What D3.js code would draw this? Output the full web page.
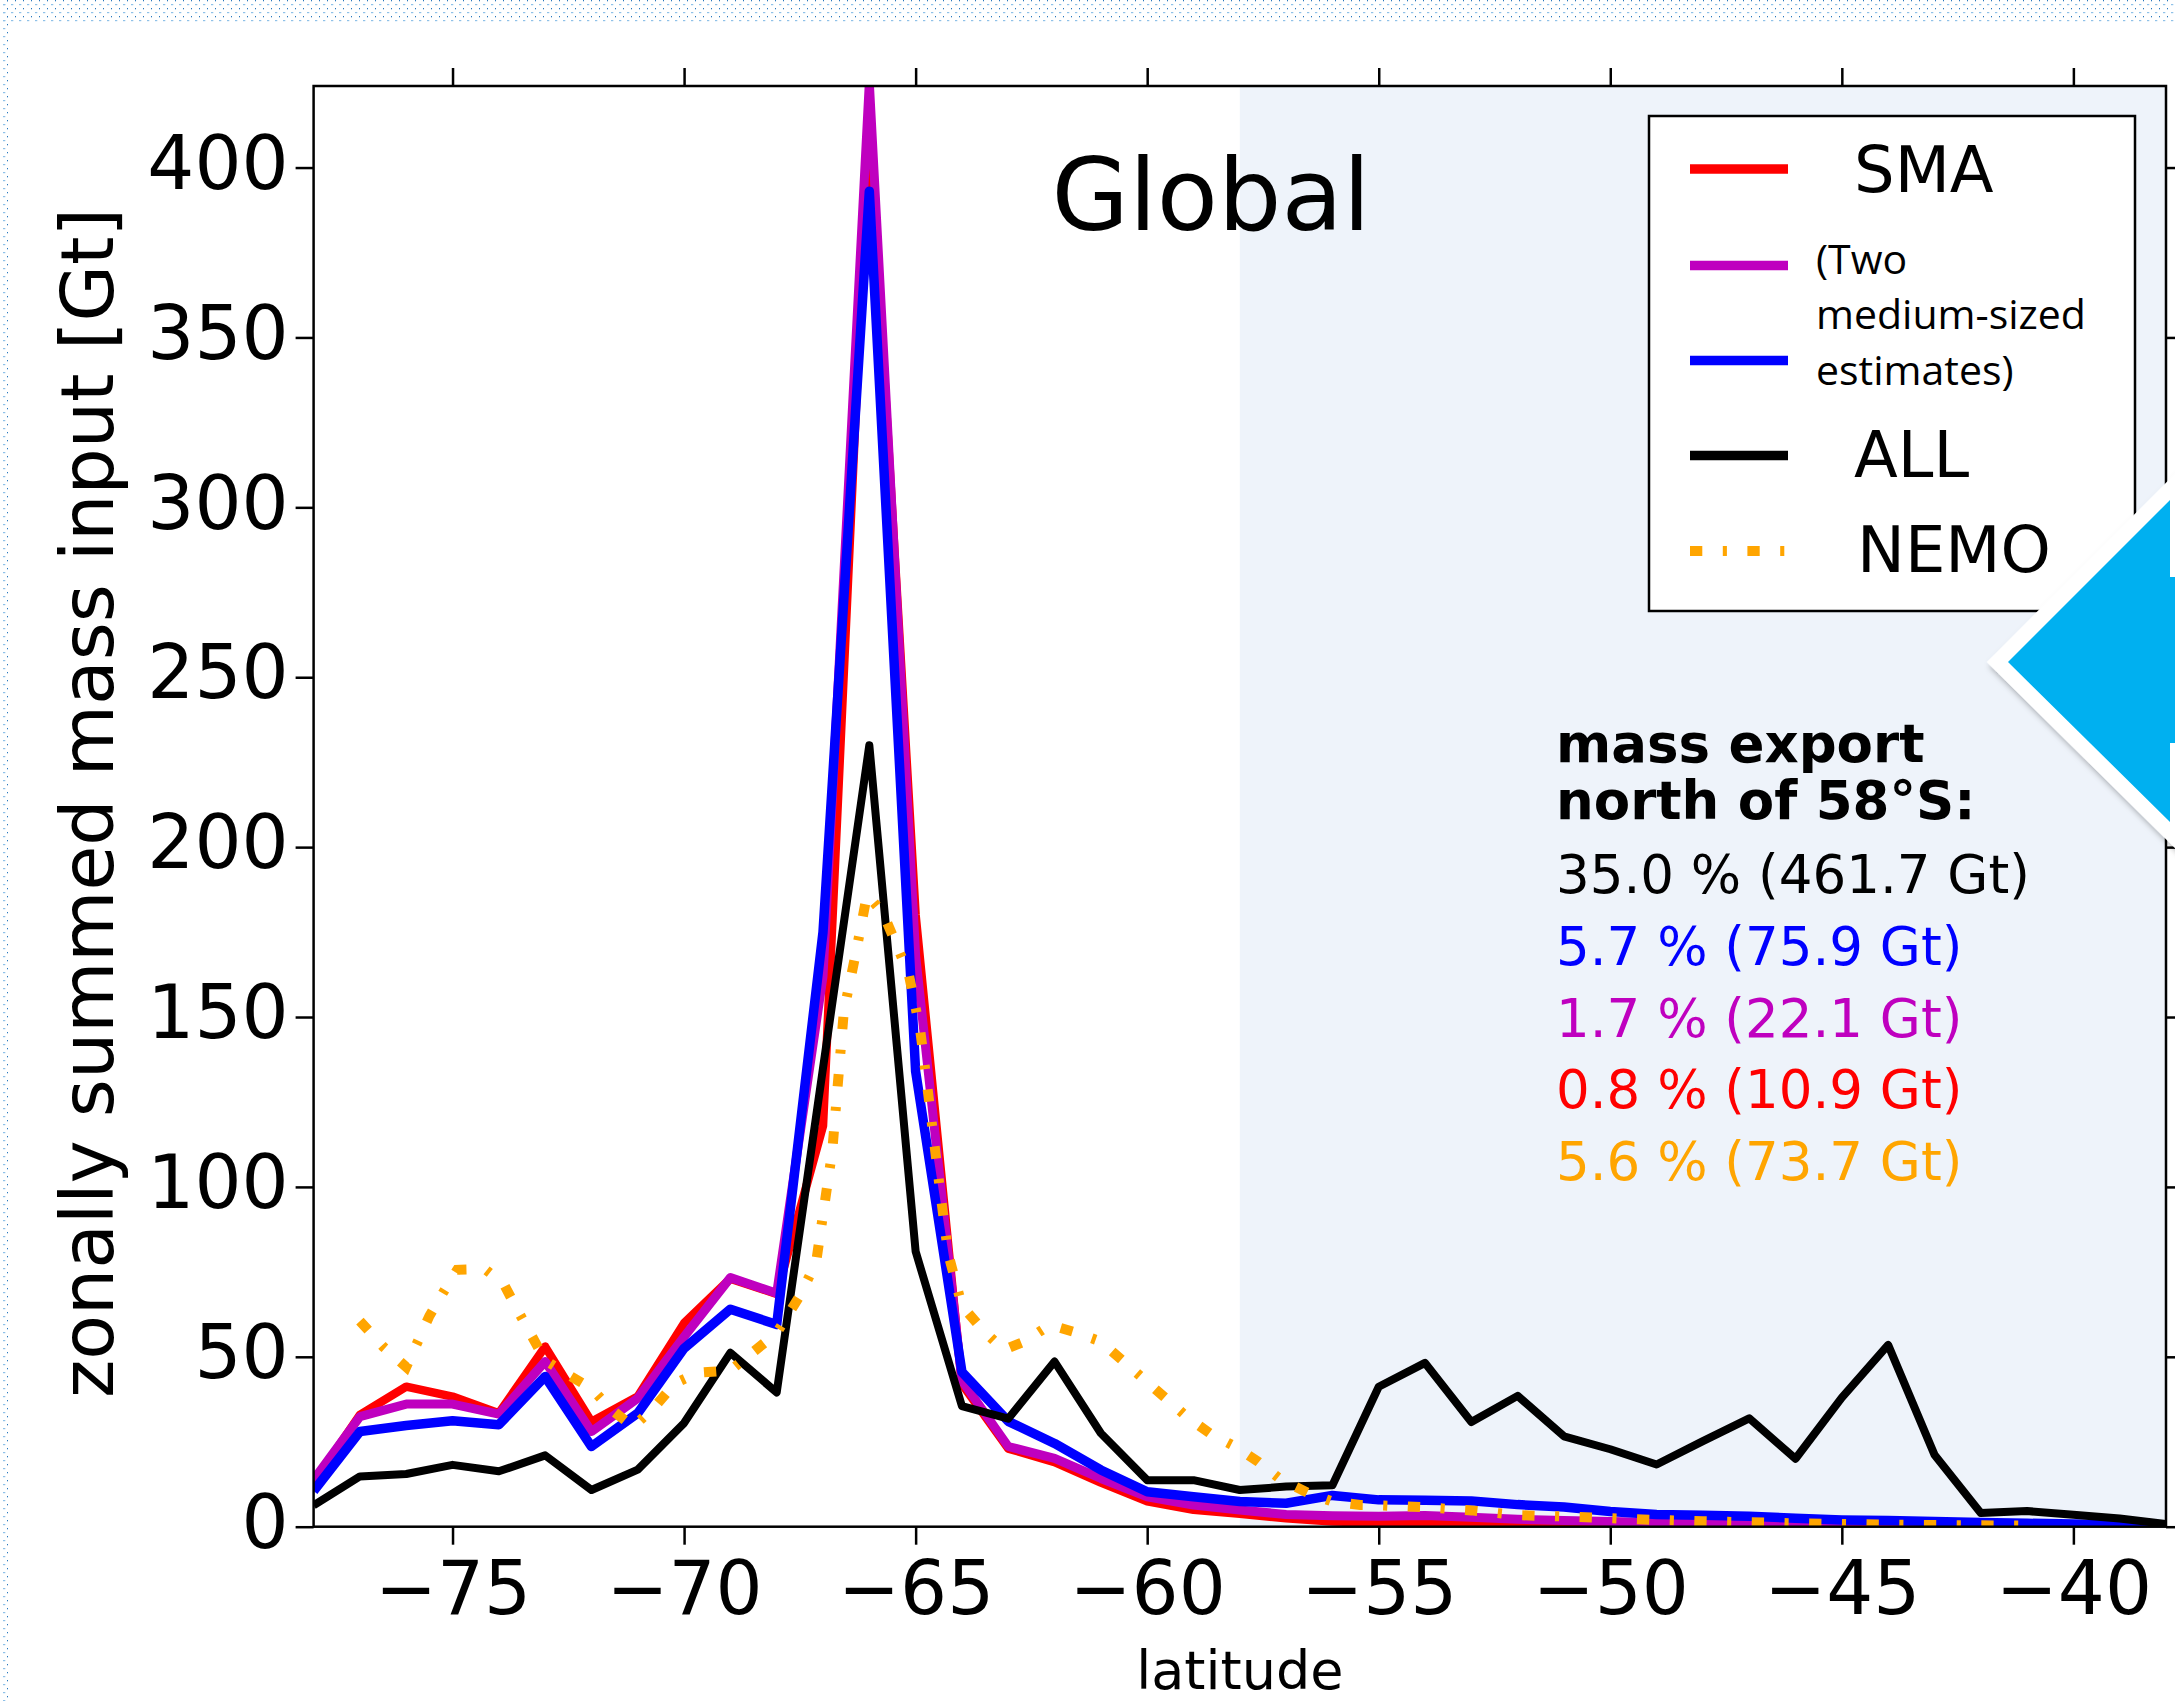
<!DOCTYPE html>
<html>
<head>
<meta charset="utf-8">
<script src="https://cdn.jsdelivr.net/npm/d3@7"></script>
<style>
  body { margin: 0; background: #fff; }
  svg { display: block; }
  text { font-family: "DejaVu Sans", sans-serif; }
</style>
</head>
<body>
<div id="chart"></div>
<script>
// latitude grid of the zonal sums
const latitudes = [-78, -77, -76, -75, -74, -73, -72, -71, -70, -69, -68, -67, -66, -65, -64, -63, -62, -61, -60, -59,
  -58, -57, -56, -55, -54, -53, -52, -51, -50, -49, -48, -47, -46, -45, -44, -43, -42, -41, -40, -39, -38];

const smaValues = [13, 32.9, 41.2, 38.3, 33.4, 53, 30.9, 38.3, 59.9, 73, 68.5, 118, 415, 180, 42, 23, 19, 13, 7.5, 5,
  3.8, 2.5, 1.5, 1.2, 1.2, 1.0, 0.8, 0.6, 0.5, 0.4, 0.3, 0.3, 0.2, 0.2, 0.1, 0.1, 0.1, 0.1, 0.05, 0.05, 0.02];

const mediumMagentaValues = [13.8, 32.4, 36.1, 36.1, 33.1, 48.6, 28, 37.8, 55.9, 73.3, 68.7, 162, 425, 168, 43, 23.6, 20.1, 14.2, 8.8, 6.4,
  4.9, 3.6, 3.2, 3.1, 3.3, 2.8, 2.2, 1.8, 1.5, 1.2, 1.0, 0.8, 0.6, 0.5, 0.4, 0.3, 0.2, 0.2, 0.1, 0.1, 0.05];

const mediumBlueValues = [10.5, 28, 29.8, 31.2, 30, 44.2, 23.6, 33.4, 52.5, 64, 59.5, 175, 393, 134, 45.5, 31, 24.5, 16.7, 10.3, 8.8,
  7.4, 6.9, 9.2, 7.9, 7.8, 7.6, 6.5, 5.8, 4.5, 3.6, 3.4, 3.1, 2.5, 2, 1.8, 1.5, 1.2, 1, 0.8, 0.5, 0.2];

const allValues = [6.3, 14.8, 15.5, 18.2, 16.3, 21, 10.8, 16.8, 30.5, 51.2, 39.5, 135, 230, 81, 35.5, 31.8, 48.6, 27.5, 13.7, 13.7,
  10.8, 11.8, 12.2, 41.2, 48.2, 30.8, 38.5, 26.6, 22.8, 18.3, 25.2, 31.9, 20, 38, 53.5, 21.2, 4, 4.6, 3.5, 2.4, 0.8];

// NEMO is on its own (finer) grid
const nemoLatitudes = [-77, -76.5, -76, -75.5, -75.2, -74.9, -74.3, -73.9, -73.6, -73.3, -73, -72.5, -72, -71.6, -71.1,
  -70.6, -70.2, -69.7, -69, -68.5, -68, -67.5, -67.15, -66.8, -66.55, -66.3, -66.05, -65.7, -65.15, -64.9, -64.7,
  -64.5, -64.3, -64, -63.55, -63.1, -62.65, -62.1, -61.6, -61, -60.55, -60.05, -59.6, -59.15, -58.65, -58.1, -57.6,
  -57.1, -56.5, -56, -55.4, -55, -54, -53, -52, -51, -50, -49, -48, -47, -46, -45, -44, -43, -42, -41];
const nemoValues = [60.5, 53, 47, 62, 69, 75.6, 75.8, 71.6, 63.8, 56.4, 49, 44.7, 40.7, 34.8, 29.4,
  35.8, 42.2, 45.3, 46, 51.5, 57, 68, 77.7, 110.6, 151.7, 168.2, 186, 180.5, 162.7, 146, 124.3,
  102, 80.5, 65, 57.9, 52, 54.5, 59.4, 57.4, 54.5, 49.1, 43.2, 37.8, 32.4, 27.5, 23.6, 19.1,
  13.7, 9.8, 7.4, 6.4, 6.3, 5.7, 4.8, 3.4, 3.0, 2.5, 2, 1.6, 1.3, 1, 0.8, 0.6, 0.5, 0.4, 0.3];

const xTickValues = [-75, -70, -65, -60, -55, -50, -45, -40];
const yTickValues = [0, 50, 100, 150, 200, 250, 300, 350, 400];
const exportBoundary = -58;

const exportHeader = ["mass export", "north of 58°S:"];
const exportLines = ["35.0 % (461.7 Gt)", "5.7 % (75.9 Gt)", "1.7 % (22.1 Gt)", "0.8 % (10.9 Gt)", "5.6 % (73.7 Gt)"];
const exportKeys = ["all", "blue", "magenta", "sma", "nemo"];

const COLORS = { sma: "#ff0000", magenta: "#bf00bf", blue: "#0000ff", all: "#000000", nemo: "#ffa500" };
const NEMO_DASH = "12.3,20.5,4.1,20.5";

class MassInputChart {
  constructor({ parentElement }) {
    this.parentElement = parentElement;
    this.fullWidth = 2175;
    this.fullHeight = 1701;
    this.margin = { top: 86, right: 9, bottom: 174.3, left: 313.6 };
    this.width = this.fullWidth - this.margin.left - this.margin.right;
    this.height = this.fullHeight - this.margin.top - this.margin.bottom;

    this.initChart();
  }

  initChart() {
    let vis = this;

    vis.root = d3.select(vis.parentElement)
      .append("svg")
      .attr("width", vis.fullWidth)
      .attr("height", vis.fullHeight);

    const defs = vis.root.append("defs");

    // slide background: dotted strip along the top and left border
    const pat = defs.append("pattern")
      .attr("id", "dots")
      .attr("patternUnits", "userSpaceOnUse")
      .attr("width", 8).attr("height", 8);
    pat.append("rect").attr("x", 7).attr("y", 0).attr("width", 1.3).attr("height", 1.3).attr("fill", "#2a78bd");
    pat.append("rect").attr("x", 3).attr("y", 4).attr("width", 2.3).attr("height", 1.2).attr("fill", "#8fc1e8");

    defs.append("clipPath").attr("id", "plot-clip")
      .append("rect").attr("width", vis.width).attr("height", vis.height);

    const shadow = defs.append("filter").attr("id", "arrow-shadow")
      .attr("x", "-20%").attr("y", "-20%").attr("width", "140%").attr("height", "140%");
    shadow.append("feDropShadow")
      .attr("dx", 3).attr("dy", 4).attr("stdDeviation", 3)
      .attr("flood-color", "#000").attr("flood-opacity", 0.35);

    vis.root.append("rect").attr("width", vis.fullWidth).attr("height", vis.fullHeight).attr("fill", "#fff");
    vis.root.append("rect").attr("width", vis.fullWidth).attr("height", 22).attr("fill", "url(#dots)");
    vis.root.append("rect").attr("width", 9).attr("height", vis.fullHeight).attr("fill", "url(#dots)");

    vis.svg = vis.root.append("g")
      .attr("transform", "translate(" + vis.margin.left + "," + vis.margin.top + ")");

    vis.x = d3.scaleLinear().domain([-78, -38]).range([0, vis.width]);
    vis.y = d3.scaleLinear().domain([0, 424]).range([vis.height, 0]);

    vis.updateChart();
  }

  updateChart() {
    let vis = this;
    const x = vis.x, y = vis.y;

    // shaded export region north of 58S
    vis.svg.append("rect")
      .attr("x", x(exportBoundary))
      .attr("y", 0)
      .attr("width", x(-38) - x(exportBoundary))
      .attr("height", vis.height)
      .attr("fill", "#eef3fa");

    const line = d3.line()
      .x(d => x(d[0]))
      .y(d => y(d[1]));

    const series = [
      { key: "sma", values: smaValues, w: 8.5 },
      { key: "magenta", values: mediumMagentaValues, w: 9 },
      { key: "blue", values: mediumBlueValues, w: 9.5 },
      { key: "all", values: allValues, w: 8 }
    ];

    const lines = vis.svg.append("g").attr("clip-path", "url(#plot-clip)");

    series.forEach(s => {
      lines.append("path")
        .datum(latitudes.map((lat, i) => [lat, s.values[i]]))
        .attr("d", line)
        .attr("fill", "none")
        .attr("stroke", COLORS[s.key])
        .attr("stroke-width", s.w)
        .attr("stroke-linejoin", "round");
    });

    lines.append("path")
      .datum(nemoLatitudes.map((lat, i) => [lat, nemoValues[i]]))
      .attr("d", line)
      .attr("fill", "none")
      .attr("stroke", COLORS.nemo)
      .attr("stroke-width", 10)
      .attr("stroke-dasharray", NEMO_DASH)
      .attr("stroke-linecap", "butt");

    // spines
    vis.svg.append("rect")
      .attr("width", vis.width)
      .attr("height", vis.height)
      .attr("fill", "none")
      .attr("stroke", "#000")
      .attr("stroke-width", 2.5);

    // axes, ticks pointing outwards on all four sides
    const styleAxis = g => {
      g.select(".domain").remove();
      g.selectAll(".tick line").attr("stroke", "#000").attr("stroke-width", 2.5);
      g.selectAll("text").attr("fill", "#000").style("font-size", "74px").style("font-family", "DejaVu Sans");
    };

    vis.svg.append("g")
      .attr("transform", "translate(0," + vis.height + ")")
      .call(d3.axisBottom(x).tickValues(xTickValues).tickSize(18).tickPadding(17).tickFormat(d3.format("d")))
      .call(styleAxis);

    vis.svg.append("g")
      .call(d3.axisTop(x).tickValues(xTickValues).tickSize(18).tickFormat(""))
      .call(styleAxis);

    vis.svg.append("g")
      .call(d3.axisLeft(y).tickValues(yTickValues).tickSize(18).tickPadding(7))
      .call(styleAxis)
      .selectAll("text").attr("dy", "0.28em");

    vis.svg.append("g")
      .attr("transform", "translate(" + vis.width + ",0)")
      .call(d3.axisRight(y).tickValues(yTickValues).tickSize(18).tickFormat(""))
      .call(styleAxis);

    // axis labels
    vis.svg.append("text")
      .attr("x", vis.width / 2)
      .attr("y", 1689 - vis.margin.top)
      .attr("text-anchor", "middle")
      .style("font-size", "54px")
      .text("latitude");

    vis.root.append("text")
      .attr("transform", "translate(113,803) rotate(-90)")
      .attr("text-anchor", "middle")
      .style("font-size", "73px")
      .text("zonally summed mass input [Gt]");

    // title
    vis.root.append("text")
      .attr("x", 1211)
      .attr("y", 230)
      .attr("text-anchor", "middle")
      .style("font-size", "100px")
      .text("Global");

    vis.drawLegend();
    vis.drawExportText();
    vis.drawArrow();
  }

  drawLegend() {
    let vis = this;
    const lg = vis.root.append("g");

    lg.append("rect")
      .attr("x", 1649).attr("y", 116)
      .attr("width", 486).attr("height", 495)
      .attr("fill", "#fff")
      .attr("stroke", "#000")
      .attr("stroke-width", 2.5);

    const entries = [
      { key: "sma", y: 169 },
      { key: "magenta", y: 265.5 },
      { key: "blue", y: 360.5 },
      { key: "all", y: 455.5 },
      { key: "nemo", y: 551 }
    ];

    entries.forEach(e => {
      lg.append("line")
        .attr("x1", 1690).attr("x2", 1788)
        .attr("y1", e.y).attr("y2", e.y)
        .attr("stroke", COLORS[e.key])
        .attr("stroke-width", e.key === "nemo" ? 10 : 9.5)
        .attr("stroke-dasharray", e.key === "nemo" ? NEMO_DASH : null);
    });

    const big = [["SMA", 1854, 192], ["ALL", 1854, 477], ["NEMO", 1857, 572]];
    big.forEach(([t, tx, ty]) => {
      lg.append("text").attr("x", tx).attr("y", ty).style("font-size", "64px").text(t);
    });

    // annotation typed over the legend
    const note = [["(Two", 274], ["medium-sized", 329], ["estimates)", 385]];
    note.forEach(([t, ty]) => {
      lg.append("text")
        .attr("x", 1816).attr("y", ty)
        .style("font-family", "'Open Sans', sans-serif")
        .style("font-size", "41px")
        .text(t);
    });
  }

  drawExportText() {
    let vis = this;
    const tg = vis.root.append("g");

    exportHeader.forEach((t, i) => {
      tg.append("text")
        .attr("x", 1556).attr("y", 762 + i * 56.5)
        .style("font-size", "53px")
        .style("font-weight", "bold")
        .text(t);
    });

    exportLines.forEach((t, i) => {
      tg.append("text")
        .attr("x", 1556).attr("y", 893 + i * 71.8)
        .attr("fill", COLORS[exportKeys[i]])
        .style("font-size", "53px")
        .text(t);
    });
  }

  drawArrow() {
    let vis = this;
    const pts = [[2008, 662], [2170, 500], [2170, 577], [2240, 577], [2240, 743], [2170, 743], [2170, 822]];
    const d = "M" + pts.map(p => p.join(",")).join("L") + "Z";

    vis.root.append("path")
      .attr("d", d)
      .attr("fill", "#fff")
      .attr("stroke", "#fff")
      .attr("stroke-width", 30)
      .attr("stroke-linejoin", "miter")
      .attr("filter", "url(#arrow-shadow)");

    vis.root.append("path")
      .attr("d", d)
      .attr("fill", "#00b0f0");
  }
}

new MassInputChart({ parentElement: "#chart" });
</script>
</body>
</html>
